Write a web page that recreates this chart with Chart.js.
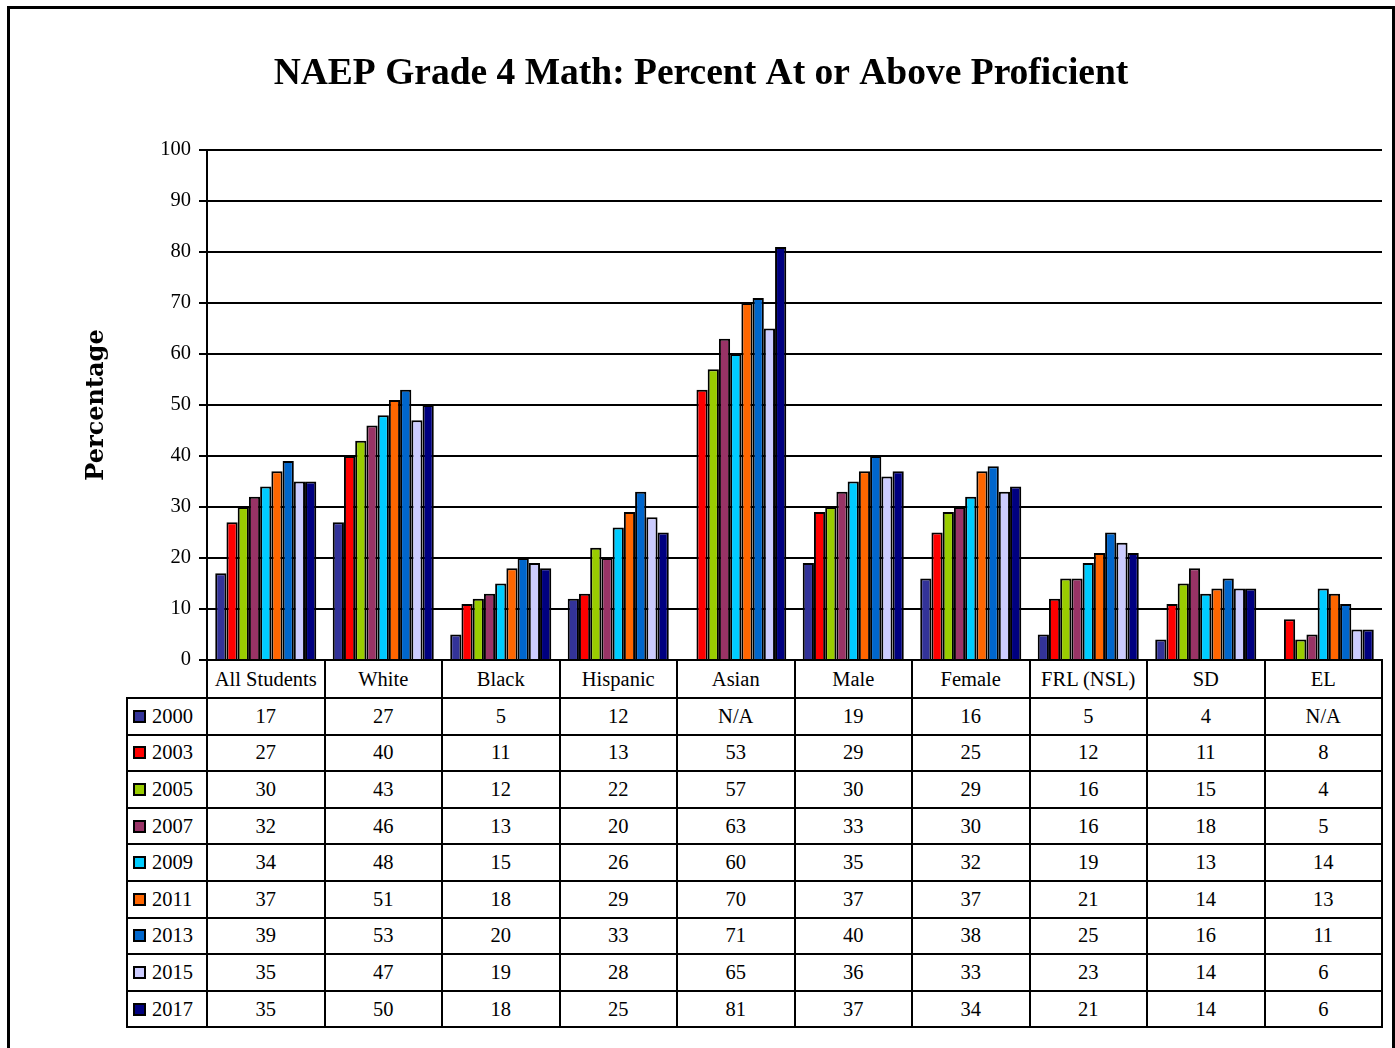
<!DOCTYPE html>
<html>
<head>
<meta charset="utf-8">
<script src="https://cdn.jsdelivr.net/npm/chart.js@4"></script>
<style>
  body { margin: 0; background: #fff; width: 1395px; height: 1048px; overflow: hidden; position: relative; font-family: "Liberation Serif", "Times New Roman", serif; }
  #frame { position: absolute; left: 7px; top: 6px; width: 1382px; height: 1100px; border: 3px solid #000; }
  #chart { position: absolute; left: 0; top: 0; }
  #table { position: absolute; left: 0; top: 0; }
  .cell { position: absolute; box-sizing: border-box; border: 2px solid #000; background: #fff; display: flex; align-items: center; justify-content: center; font-size: 20.5px; color: #000; }
  .cell.key { justify-content: flex-start; padding-left: 5px; }
  .swatch { display: inline-block; box-sizing: border-box; width: 13px; height: 13px; border: 2px solid #000; margin-right: 6px; }
</style>
</head>
<body>
<div id="frame"></div>
<canvas id="chart" width="1395" height="690"></canvas>
<div id="table"></div>
<script>
const categories = ['All Students', 'White', 'Black', 'Hispanic', 'Asian', 'Male', 'Female', 'FRL (NSL)', 'SD', 'EL'];
const years = ['2000', '2003', '2005', '2007', '2009', '2011', '2013', '2015', '2017'];

const v2000 = [17, 27, 5, 12, null, 19, 16, 5, 4, null];
const v2003 = [27, 40, 11, 13, 53, 29, 25, 12, 11, 8];
const v2005 = [30, 43, 12, 22, 57, 30, 29, 16, 15, 4];
const v2007 = [32, 46, 13, 20, 63, 33, 30, 16, 18, 5];
const v2009 = [34, 48, 15, 26, 60, 35, 32, 19, 13, 14];
const v2011 = [37, 51, 18, 29, 70, 37, 37, 21, 14, 13];
const v2013 = [39, 53, 20, 33, 71, 40, 38, 25, 16, 11];
const v2015 = [35, 47, 19, 28, 65, 36, 33, 23, 14, 6];
const v2017 = [35, 50, 18, 25, 81, 37, 34, 21, 14, 6];

const yTicks = [0, 10, 20, 30, 40, 50, 60, 70, 80, 90, 100];

const series = [v2000, v2003, v2005, v2007, v2009, v2011, v2013, v2015, v2017];
const colors = ['#333399', '#FF0000', '#99CC00', '#993366', '#00CCFF', '#FF6600', '#0066CC', '#CCCCFF', '#000080'];

const ctx = document.getElementById('chart').getContext('2d');

const chart = new Chart(ctx, {
  type: 'bar',
  data: {
    labels: categories,
    datasets: series.map((vals, i) => ({
      label: years[i],
      data: vals,
      backgroundColor: colors[i],
      borderColor: '#000',
      borderWidth: 2,
      categoryPercentage: 0.86,
      barPercentage: 1
    }))
  },
  options: {
    responsive: false,
    animation: false,
    layout: { padding: { left: 20, right: 13, top: 0, bottom: 10 } },
    plugins: {
      legend: { display: false },
      tooltip: { enabled: false },
      title: {
        display: true,
        text: 'NAEP Grade 4 Math: Percent At or Above Proficient',
        color: '#000',
        font: { family: "'Liberation Serif', 'Times New Roman', serif", size: 37.5, weight: 'bold', lineHeight: 1.2 },
        padding: { top: 51.5, bottom: 53.5 }
      }
    },
    scales: {
      x: {
        ticks: { display: false },
        grid: { display: false },
        border: { display: false },
        afterFit: (s) => { s.height = 20; }
      },
      y: {
        min: 0,
        max: 100,
        afterBuildTicks: (s) => { s.ticks = yTicks.map((v) => ({ value: v })); },
        ticks: { color: '#000', font: { family: "'Liberation Serif', serif", size: 20.5 }, padding: 8 },
        grid: { color: '#000', lineWidth: 2, tickLength: 8 },
        border: { color: '#000', width: 2 },
        title: {
          display: true,
          text: 'Percentage',
          color: '#000',
          font: { family: "'DejaVu Serif', serif", size: 24, weight: 'bold', lineHeight: 1.2 },
          padding: { top: 62.6, bottom: 0 }
        },
        afterFit: (s) => { s.width = 187; }
      }
    }
  }
});

// data table under the plot, lined up with the category columns
const area = chart.chartArea;
const colW = (area.right - area.left) / categories.length;
const headerTop = area.bottom;
const headerH = 38;
const rowH = 36.6;
const keyLeft = 127;
const table = document.getElementById('table');

function addCell(x, y, w, h, content, cls) {
  const d = document.createElement('div');
  d.className = 'cell' + (cls ? ' ' + cls : '');
  d.style.left = (x - 1) + 'px';
  d.style.top = (y - 1) + 'px';
  d.style.width = (w + 2) + 'px';
  d.style.height = (h + 2) + 'px';
  if (typeof content === 'string') d.textContent = content;
  else d.appendChild(content);
  table.appendChild(d);
}

categories.forEach((c, j) => {
  addCell(area.left + j * colW, headerTop, colW, headerH, c);
});

years.forEach((yr, i) => {
  const y = headerTop + headerH + i * rowH;
  const key = document.createElement('span');
  key.style.display = 'flex';
  key.style.alignItems = 'center';
  const sw = document.createElement('span');
  sw.className = 'swatch';
  sw.style.background = colors[i];
  key.appendChild(sw);
  key.appendChild(document.createTextNode(yr));
  addCell(keyLeft, y, area.left - keyLeft, rowH, key, 'key');
  series[i].forEach((v, j) => {
    addCell(area.left + j * colW, y, colW, rowH, v === null ? 'N/A' : String(v));
  });
});
</script>
</body>
</html>
